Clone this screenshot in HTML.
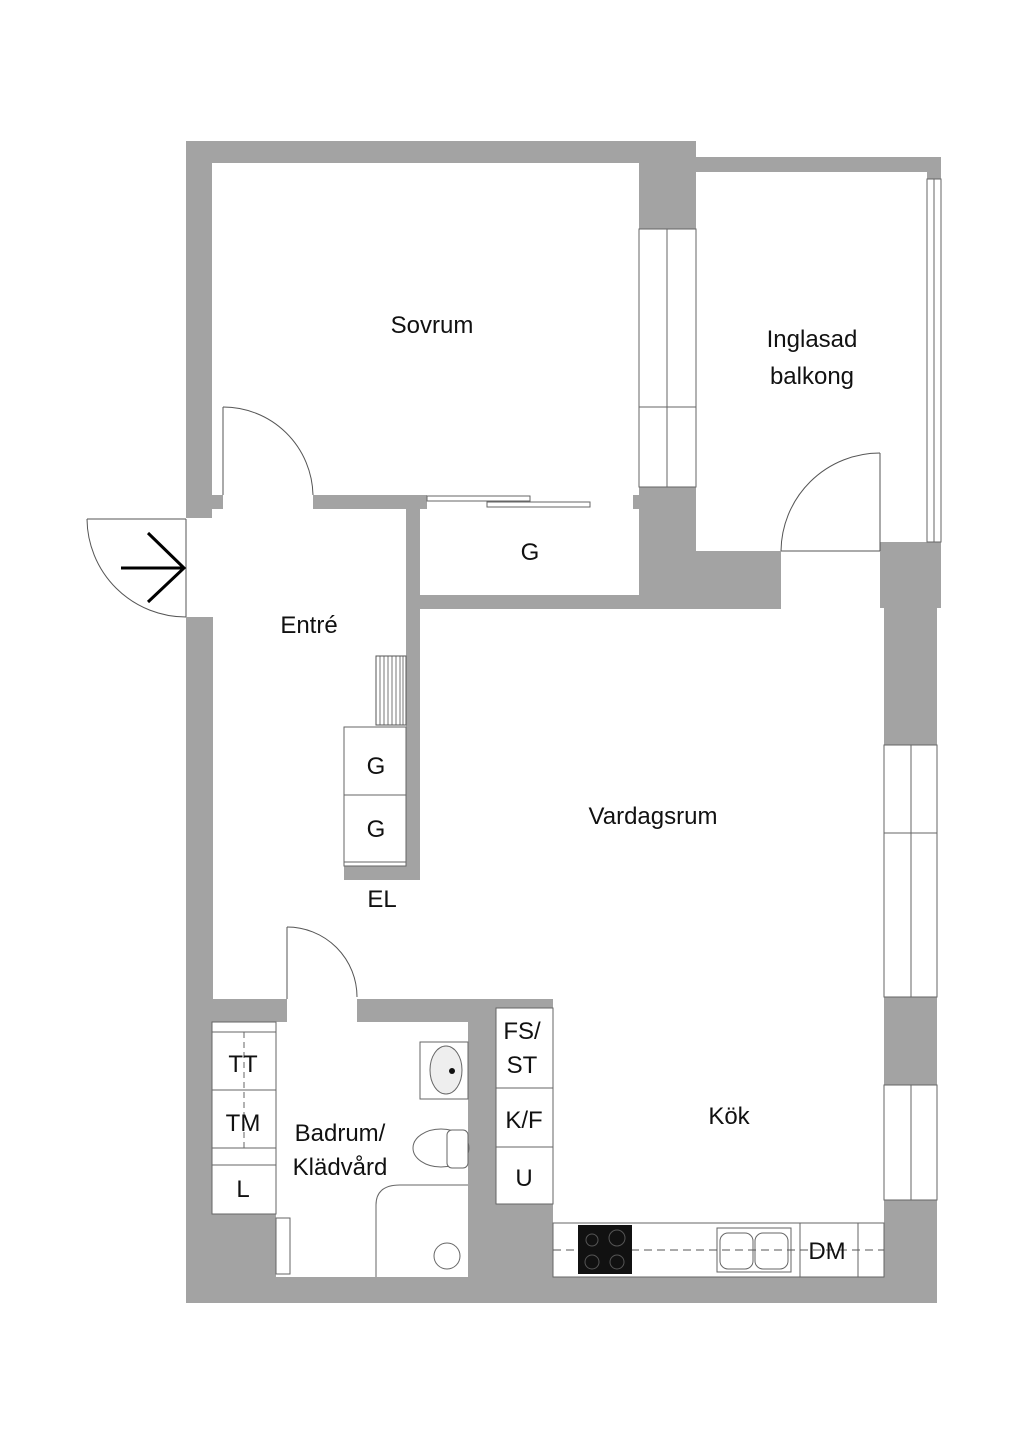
<!DOCTYPE html>
<html><head><meta charset="utf-8"><style>
html,body{margin:0;padding:0;background:#fff}
svg{display:block}
text{font-family:"Liberation Sans","DejaVu Sans",sans-serif;fill:#111}
</style></head><body>
<svg width="1024" height="1449" viewBox="0 0 1024 1449" xmlns="http://www.w3.org/2000/svg">
<g fill="#a3a3a3" stroke="none">
<rect x="186" y="141" width="510" height="22"/>
<rect x="696" y="157" width="245" height="15"/>
<rect x="927" y="172" width="14" height="7"/>
<rect x="186" y="141" width="26" height="377"/>
<rect x="186" y="617" width="27" height="686"/>
<rect x="186" y="1277" width="751" height="26"/>
<rect x="639" y="157" width="57" height="72"/>
<rect x="639" y="487" width="57" height="64"/>
<rect x="639" y="551" width="142" height="57"/>
<rect x="880" y="542" width="61" height="66"/>
<rect x="884" y="608" width="53" height="137"/>
<rect x="884" y="997" width="53" height="88"/>
<rect x="884" y="1200" width="53" height="90"/>
<rect x="212" y="495" width="11" height="14"/>
<rect x="313" y="495" width="114" height="14"/>
<rect x="633" y="495" width="6" height="14"/>
<rect x="406" y="509" width="14" height="371"/>
<rect x="420" y="595" width="361" height="14"/>
<rect x="344" y="866" width="76" height="14"/>
<rect x="212" y="999" width="75" height="23"/>
<rect x="357" y="999" width="196" height="23"/>
<rect x="468" y="1022" width="28" height="255"/>
<rect x="496" y="1204" width="57" height="73"/>
<rect x="496" y="999" width="57" height="9"/>
<rect x="212" y="1214" width="64" height="63"/>
</g>
<g fill="#fff" stroke="#666" stroke-width="1">
<rect x="639" y="229" width="57" height="258"/>
<line x1="667" y1="229" x2="667" y2="487"/>
<line x1="639" y1="407" x2="696" y2="407"/>
<rect x="927" y="179" width="14" height="363"/>
<line x1="934" y1="179" x2="934" y2="542"/>
<rect x="884" y="745" width="53" height="252"/>
<line x1="911" y1="745" x2="911" y2="997"/>
<line x1="884" y1="833" x2="937" y2="833"/>
<rect x="884" y="1085" width="53" height="115"/>
<line x1="911" y1="1085" x2="911" y2="1200"/>
<rect x="427" y="496" width="103" height="5"/>
<rect x="487" y="502" width="103" height="5"/>
</g>
<g fill="none" stroke="#555" stroke-width="1">
<line x1="223" y1="407" x2="223" y2="495"/>
<path d="M223,407 A90,90 0 0 1 313,495"/>
<line x1="880" y1="453" x2="880" y2="551"/>
<path d="M880,453 A99,99 0 0 0 781,551"/>
<line x1="781" y1="551" x2="880" y2="551"/>
<line x1="87" y1="519" x2="186" y2="519"/>
<path d="M87,519 A99,99 0 0 0 186,617"/>
<line x1="186" y1="519" x2="186" y2="617"/>
<line x1="287" y1="927" x2="287" y2="999"/>
<path d="M287,927 A70,70 0 0 1 357,997"/>
</g>
<g stroke="#000" stroke-width="3" fill="none">
<line x1="121" y1="568" x2="184" y2="568"/>
<polyline points="148,533 184,568 148,602"/>
</g>
<rect x="376" y="656" width="30" height="69" fill="#fff" stroke="#555"/>
<g stroke="#555" stroke-width="0.8">
<line x1="380" y1="656" x2="380" y2="725"/><line x1="384" y1="656" x2="384" y2="725"/><line x1="388" y1="656" x2="388" y2="725"/><line x1="392" y1="656" x2="392" y2="725"/><line x1="396" y1="656" x2="396" y2="725"/><line x1="400" y1="656" x2="400" y2="725"/><line x1="403" y1="656" x2="403" y2="725"/>
</g>
<g fill="#fff" stroke="#666">
<rect x="344" y="727" width="62" height="68"/>
<rect x="344" y="795" width="62" height="67"/>
<rect x="344" y="862" width="62" height="4"/>
<rect x="212" y="1022" width="64" height="10"/>
<rect x="212" y="1032" width="64" height="58"/>
<rect x="212" y="1090" width="64" height="58"/>
<rect x="212" y="1148" width="64" height="17"/>
<rect x="212" y="1165" width="64" height="49"/>
<rect x="496" y="1008" width="57" height="80"/>
<rect x="496" y="1088" width="57" height="59"/>
<rect x="496" y="1147" width="57" height="57"/>
<rect x="553" y="1223" width="331" height="54"/>
<line x1="800" y1="1223" x2="800" y2="1277"/>
<line x1="858" y1="1223" x2="858" y2="1277"/>
<rect x="717" y="1228" width="74" height="44"/>
<rect x="720" y="1233" width="33" height="36" rx="8"/>
<rect x="755" y="1233" width="33" height="36" rx="8"/>
<rect x="420" y="1042" width="48" height="57"/>
<ellipse cx="446" cy="1070" rx="16" ry="24" fill="#eee"/>
<ellipse cx="441" cy="1148" rx="28" ry="19"/>
<rect x="447" y="1130" width="21" height="38" rx="5"/>
<path d="M376,1277 V1205 Q376,1185 400,1185 H468" fill="none"/>
<circle cx="447" cy="1256" r="13"/>
<rect x="276" y="1218" width="14" height="56"/>
</g>
<line x1="244" y1="1032" x2="244" y2="1148" stroke="#666" stroke-dasharray="6,4"/>
<line x1="553" y1="1250" x2="884" y2="1250" stroke="#555" stroke-dasharray="8,5"/>
<rect x="578" y="1225" width="54" height="49" fill="#111"/>
<g fill="none" stroke="#555"><circle cx="592" cy="1240" r="6"/><circle cx="617" cy="1238" r="8"/><circle cx="592" cy="1262" r="7"/><circle cx="617" cy="1262" r="7"/></g>
<circle cx="452" cy="1071" r="3" fill="#111"/>
<g font-size="24" text-anchor="middle">
<text x="432" y="333">Sovrum</text>
<text x="812" y="347">Inglasad</text>
<text x="812" y="384">balkong</text>
<text x="530" y="560">G</text>
<text x="309" y="633">Entré</text>
<text x="376" y="774">G</text>
<text x="376" y="837">G</text>
<text x="382" y="907">EL</text>
<text x="653" y="824">Vardagsrum</text>
<text x="729" y="1124">Kök</text>
<text x="522" y="1039">FS/</text>
<text x="522" y="1073">ST</text>
<text x="524" y="1128">K/F</text>
<text x="524" y="1186">U</text>
<text x="243" y="1072">TT</text>
<text x="243" y="1131">TM</text>
<text x="243" y="1197">L</text>
<text x="340" y="1141">Badrum/</text>
<text x="340" y="1175">Klädvård</text>
<text x="827" y="1259">DM</text>
</g>
</svg>
</body></html>
